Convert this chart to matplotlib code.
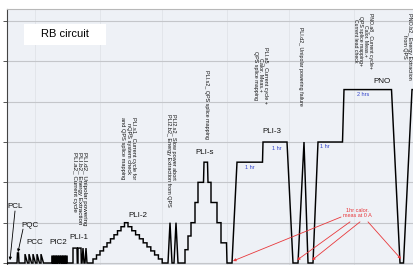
import matplotlib
matplotlib.use("Agg")
import matplotlib.pyplot as plt
from matplotlib.ticker import MultipleLocator
from matplotlib.patches import Rectangle

plt.rcParams['font.family'] = ['Liberation Sans', 'DejaVu Sans']

# ---- current trace (time in arbitrary units, current in grid units) ----
t_start = [-1]
i_start = [0]
t_pqc = [9, 9.5, 10.5, 11]
i_pqc = [0, 0.25, 0.25, 0]
t_pcc = [17, 17, 19.5, 21, 21, 23.5, 25, 25, 27.5, 29, 29, 31.5, 33, 33, 35.5]
i_pcc = [0, 0.22, 0, 0, 0.22, 0, 0, 0.22, 0, 0, 0.22, 0, 0, 0.22, 0]
t_pic2 = [44, 44, 44.6, 44.6, 45.8, 45.8, 46.4, 46.4, 47.6, 47.6, 48.2, 48.2,
          49.4, 49.4, 50.0, 50.0, 51.2, 51.2, 51.8, 51.8, 53, 53, 53.6, 53.6,
          54.8, 54.8, 55.4, 55.4, 56.6, 56.6, 57.2, 57.2, 58.4, 58.4, 59.0, 59.0]
i_pic2 = [0, 0.17, 0.17, 0] * 9
t_pli1 = [65, 65, 69, 69.3, 70, 70, 73, 73.3, 74, 75, 76, 77, 78, 79]
i_pli1 = [0, 0.37, 0.37, 0, 0, 0.37, 0.37, 0, 0, 0.37, 0, 0, 0.37, 0]
t_pli2 = [85, 85, 88.5, 88.5, 92, 92, 95.5, 95.5, 99, 99, 102.5, 102.5,
          106, 106, 109.5, 109.5, 113, 113, 116.5, 116.5,
          120, 120, 123.8, 123.8, 127.6, 127.6, 131.4, 131.4, 135.2, 135.2,
          139, 139, 142.8, 142.8, 146.6, 146.6, 150.4, 150.4, 154.2, 154.2]
i_pli2 = [0, 0.1, 0.1, 0.2, 0.2, 0.3, 0.3, 0.4, 0.4, 0.5, 0.5, 0.6,
          0.6, 0.7, 0.7, 0.8, 0.8, 0.9, 0.9, 1.0,
          1.0, 0.9, 0.9, 0.8, 0.8, 0.7, 0.7, 0.6, 0.6, 0.5,
          0.5, 0.4, 0.4, 0.3, 0.3, 0.2, 0.2, 0.1, 0.1, 0]
t_pli2b = [160, 162, 164, 166, 168, 170]
i_pli2b = [0, 1.0, 0, 0, 1.0, 0]
t_plis = [177, 177, 180, 180, 183, 183, 187, 187, 190, 190, 195.5, 196, 199.5,
          200, 203, 203, 209, 209, 213, 213, 218.5, 219]
i_plis = [0, 0.33, 0.33, 0.67, 0.67, 1.0, 1.0, 1.5, 1.5, 2.0, 2.0, 2.5, 2.5,
          2.0, 2.0, 1.5, 1.5, 1.0, 1.0, 0.5, 0.5, 0]
t_pli3 = [224, 229, 254.5, 255, 279, 285]
i_pli3 = [0, 2.5, 2.5, 3.0, 3.0, 0]
t_fail = [290, 296, 300]
i_fail = [0, 3.0, 0]
t_pno = [305, 310, 334.5, 336, 383.5, 392, 395.5, 404, 407]
i_pno = [0, 3.0, 3.0, 4.3, 4.3, 0, 0, 4.3, 4.3]

t_all = t_start + t_pqc + t_pcc + t_pic2 + t_pli1 + t_pli2 + t_pli2b + t_plis + t_pli3 + t_fail + t_pno
i_all = i_start + i_pqc + i_pcc + i_pic2 + i_pli1 + i_pli2 + i_pli2b + i_plis + i_pli3 + i_fail + i_pno

# ---- phase labels ----
phase_names = ["PCL", "PQC", "PCC", "PIC2", "PLI-1", "PLI-2", "PLI-s", "PLI-3", "PNO"]
phase_x = [7, 21.5, 27, 50.5, 71, 130, 197, 263.5, 373.5]
phase_y = [1.39, 0.94, 0.50, 0.50, 0.64, 1.19, 2.73, 3.25, 4.51]

# ---- vertical test-step descriptions ----
desc_texts = [
    "PLI.d2_ Unipolar powering\nPLI.b2_ Energy Extraction\nPLI.a2_ Current cycle",
    "PLI.s1_ Current cycle for\nnQPS system check\nand QPS splice mapping",
    "PLI2.s2_ Slow power abort\nPLI2.b2_ Energy Extraction from QPS",
    "PLI.s2_ QPS splice mapping",
    "PLI.a5_ Current cycle +\nCalor. Meas.+\nQPS splice mapping",
    "PLI.d2_ Unipolar powering failure",
    "PNO.a8_ Current cycle+\nCalor. Meas.+\nQPS splice mapping+\nCurrent lead check",
    "PNO.b2_ Energy Extraction\nfrom QPS",
]
desc_x = [71.5, 120, 163, 198, 252.5, 292, 355, 399]
desc_top = [2.75, 3.62, 3.69, 4.79, 5.36, 5.85, 6.2, 6.2]
desc_align = ["left", "center", "left", "left", "center", "left", "center", "center"]
desc_size = [4.5, 4.1, 4.0, 3.9, 3.9, 3.8, 3.7, 3.9]

# ---- duration labels ----
dur_texts = ["1 hr", "1 hr", "1 hr", "2 hrs"]
dur_x = [242, 269, 317, 355]
dur_y = [2.38, 2.85, 2.88, 4.17]

# ---- calorimetric annotation ----
cal_text = "1hr calor.\nmeas at 0 A"
cal_pos = (349, 1.23)
cal_tails = [(333, 1.14), (342, 1.02), (352, 1.02), (360, 1.02)]
cal_tips = [(225, 0.05), (289, 0.07), (304, 0.07), (393, 0.10)]

# ---- black pointer arrows ----
ptr_tails = [(7, 1.29), (15, 0.84)]
ptr_tips = [(2, 0.07), (10, 0.27)]

vgrid_x = [27, 92, 154, 219, 281, 346]

W, H = 413, 265
fig = plt.figure(figsize=(W / 100, H / 100), dpi=100)
ax = fig.add_axes([7 / W, 0.5 / H, (W - 7) / W, (264.5 - 9) / H])
ax.set_facecolor('#eef1f6')
ax.set_xlim(-1, 405)
ax.set_ylim(-0.037, 6.298)

ax.yaxis.set_major_locator(MultipleLocator(1))
ax.xaxis.set_major_locator(MultipleLocator(67))
ax.set_yticklabels([])
ax.set_xticklabels([])
ax.tick_params(axis='both', direction='out', length=3, width=0.7, color='#555555')
ax.grid(axis='y', color='#c4c6ca', lw=0.8)
for xv in vgrid_x:
    ax.axvline(xv, color='#e0e3e8', lw=0.6, zorder=0.5)
ax.set_axisbelow(True)
ax.spines['right'].set_visible(False)
ax.spines['top'].set_color('#b8b8b8')
ax.spines['top'].set_linewidth(0.8)
ax.spines['left'].set_color('#444444')
ax.spines['left'].set_linewidth(0.8)
ax.spines['bottom'].set_color('#444444')

ax.plot(t_all, i_all, color='black', lw=1.05, zorder=3, solid_joinstyle='miter')

# title box
ax.add_patch(Rectangle((16, 5.41), 82, 0.52, facecolor='white', edgecolor='none', zorder=2))
ax.text(57, 5.67, "RB circuit", fontsize=8, ha='center', va='center', zorder=3)

for name, x, y in zip(phase_names, phase_x, phase_y):
    ax.text(x, y, name, fontsize=5.8, ha='center', va='center', color='#111111', zorder=4)

for txt, x, y, al, fs in zip(desc_texts, desc_x, desc_top, desc_align, desc_size):
    ax.text(x, y, txt, fontsize=fs, rotation=270, ha='center', va='top',
            multialignment=al, linespacing=1.05, color='#111111', zorder=4)

for txt, x, y in zip(dur_texts, dur_x, dur_y):
    ax.text(x, y, txt, fontsize=4, ha='center', va='center', color='#3344cc', zorder=4)

ax.text(cal_pos[0], cal_pos[1], cal_text, fontsize=4, ha='center', va='center',
        color='#e8383b', linespacing=1.0, zorder=4)
for tail, tip in zip(cal_tails, cal_tips):
    ax.annotate("", xy=tip, xytext=tail,
                arrowprops=dict(arrowstyle='-|>', color='#e8383b', lw=0.6,
                                mutation_scale=4, shrinkA=0, shrinkB=0), zorder=5)

for tail, tip in zip(ptr_tails, ptr_tips):
    ax.annotate("", xy=tip, xytext=tail,
                arrowprops=dict(arrowstyle='-|>', color='black', lw=0.6,
                                mutation_scale=4, shrinkA=0, shrinkB=0), zorder=5)

fig.savefig("out.png", dpi=100)
